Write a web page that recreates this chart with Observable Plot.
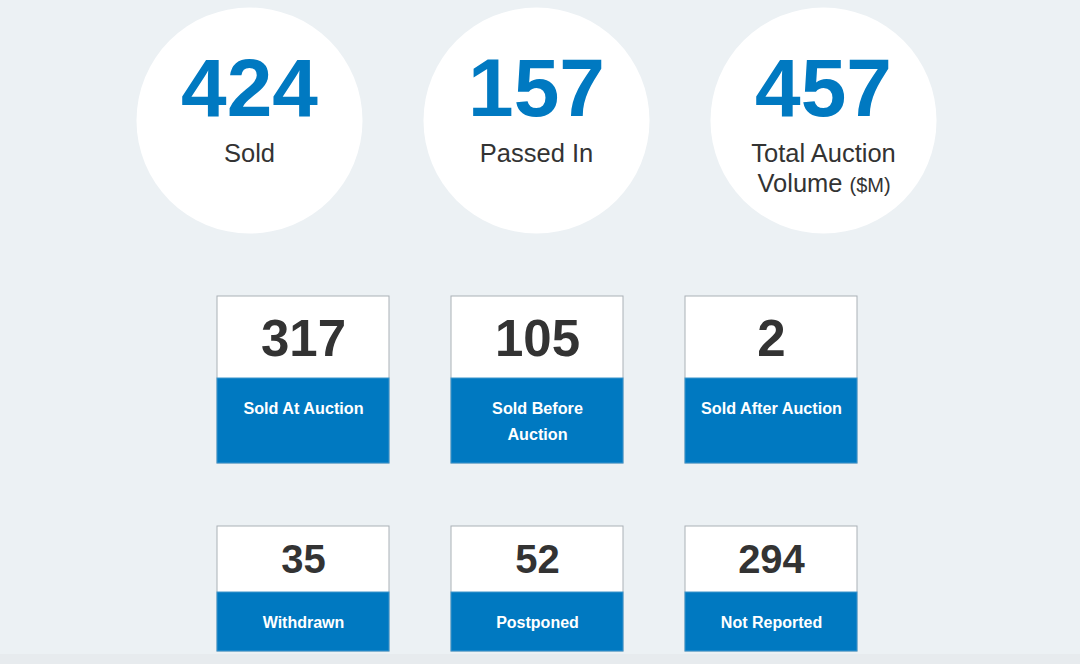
<!DOCTYPE html>
<html>
<head>
<meta charset="utf-8">
<script src="https://cdn.jsdelivr.net/npm/d3@7"></script>
<script src="https://cdn.jsdelivr.net/npm/@observablehq/plot@0.6"></script>
<style>
  html, body { margin: 0; padding: 0; background: #ecf1f4; }
  #chart svg { display: block; }
</style>
</head>
<body>
<div id="chart"></div>
<script>
// ---- data ----
const kpiValues = [424, 157, 457];
const kpiLabels = [["Sold"], ["Passed In"], ["Total Auction", "Volume"]];
const kpiUnits = ["", "", "($M)"];

const saleValues = [317, 105, 2];
const saleLabels = ["Sold At Auction", "Sold Before\nAuction", "Sold After Auction"];

const otherValues = [35, 52, 294];
const otherLabels = ["Withdrawn", "Postponed", "Not Reported"];

// ---- layout (derived) ----
const W = 1080, H = 664;
const BLUE = "#0079c1", DARK = "#333333", BORDER = "#aab1b6";

const kpis = kpiValues.map((v, i) => ({
  value: v, lines: kpiLabels[i], unit: kpiUnits[i], cx: 249 + i * 287, cy: 120
}));
const boxX = i => 217 + i * 234;
const boxW = 172;
const row1 = saleValues.map((v, i) => ({value: v, label: saleLabels[i], x1: boxX(i), x2: boxX(i) + boxW, top: 296, mid: 378, bottom: 463}));
const row2 = otherValues.map((v, i) => ({value: v, label: otherLabels[i], x1: boxX(i), x2: boxX(i) + boxW, top: 526, mid: 592, bottom: 651}));
const boxes = [...row1, ...row2];

const kpiLabelRows = kpis.flatMap(d => d.lines.map((t, j) => ({
  text: t, cx: d.cx, y: 161 + j * 30, last: j === d.lines.length - 1, unit: d.unit
})));

const font = "Liberation Sans, Arial, Helvetica, sans-serif";

const chart = Plot.plot({
  width: W, height: H,
  margin: 0,
  x: {domain: [0, W], range: [0, W], axis: null},
  y: {domain: [0, H], range: [0, H], axis: null},
  style: {background: "#ecf1f4", fontFamily: font},
  marks: [
    // subtle bottom shade
    Plot.rect([{}], {x1: 0, x2: W, y1: 654, y2: H, fill: "#e7ebee"}),
    // KPI circles
    Plot.dot(kpis, {x: "cx", y: "cy", r: 113, fill: "#ffffff", stroke: "none"}),
    Plot.text(kpis, {x: "cx", y: 115, text: d => String(d.value), fill: BLUE,
      fontSize: 82, fontWeight: "bold", lineAnchor: "bottom", textAnchor: "middle"}),
    Plot.text(kpiLabelRows.filter(d => !(d.last && d.unit)), {x: "cx", y: "y", text: "text", fill: DARK,
      fontSize: 25.5, lineAnchor: "bottom", textAnchor: "middle"}),
    Plot.text(kpiLabelRows.filter(d => d.last && d.unit), {x: d => d.cx + 19, y: "y", text: "text", fill: DARK,
      fontSize: 25.5, lineAnchor: "bottom", textAnchor: "end"}),
    Plot.text(kpiLabelRows.filter(d => d.last && d.unit), {x: d => d.cx + 26, y: "y", text: "unit", fill: DARK,
      fontSize: 20, lineAnchor: "bottom", textAnchor: "start"}),
    // boxes
    Plot.rect(boxes, {x1: "x1", x2: "x2", y1: "top", y2: "bottom", fill: "#ffffff", stroke: BORDER, strokeWidth: 1, inset: 0}),
    Plot.rect(boxes, {x1: "x1", x2: "x2", y1: "mid", y2: "bottom", fill: BLUE, stroke: "#3d95cc", strokeWidth: 1, inset: 0}),
    Plot.text(row1, {x: d => (d.x1 + d.x2) / 2, y: 355, text: d => String(d.value), fill: DARK,
      fontSize: 51, fontWeight: "bold", lineAnchor: "bottom", textAnchor: "middle"}),
    Plot.text(row1, {x: d => (d.x1 + d.x2) / 2, y: 395, text: "label", fill: "#ffffff",
      fontSize: 16.2, fontWeight: "bold", lineAnchor: "top", lineHeight: 1.6, textAnchor: "middle"}),
    Plot.text(row2, {x: d => (d.x1 + d.x2) / 2, y: 572, text: d => String(d.value), fill: DARK,
      fontSize: 40, fontWeight: "bold", lineAnchor: "bottom", textAnchor: "middle"}),
    Plot.text(row2, {x: d => (d.x1 + d.x2) / 2, y: 627, text: "label", fill: "#ffffff",
      fontSize: 16, fontWeight: "bold", lineAnchor: "bottom", textAnchor: "middle"})
  ]
});
document.getElementById("chart").append(chart);
</script>
</body>
</html>
